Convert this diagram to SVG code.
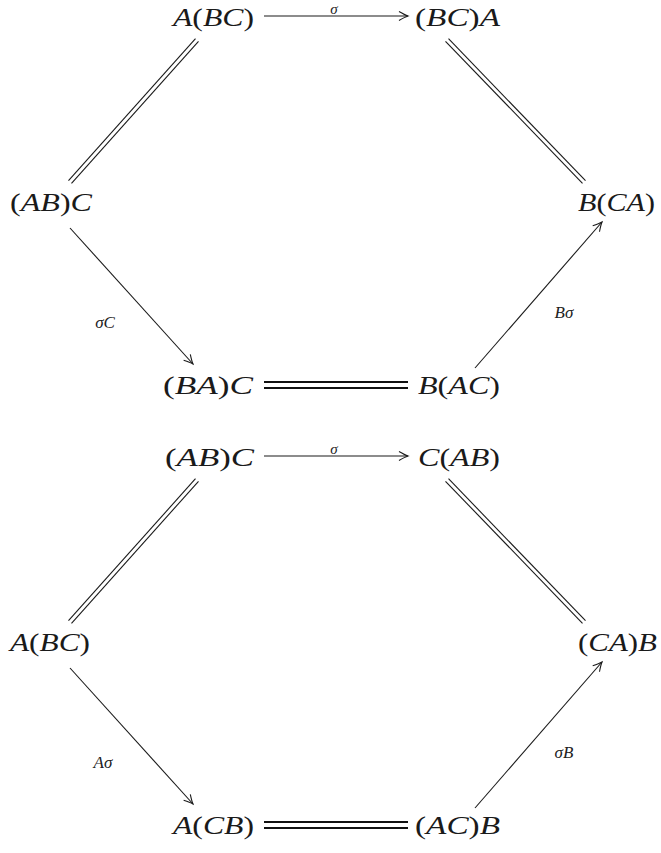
<svg xmlns="http://www.w3.org/2000/svg" width="661" height="853" viewBox="0 0 661 853">
<defs>
<style>
.n{font-family:"Liberation Serif",serif;font-size:26px;font-style:italic;fill:#1a1a1a}
.u{font-style:normal}
.l{font-family:"Liberation Serif",serif;font-size:17px;font-style:italic;fill:#222}
.s{font-family:"Liberation Serif",serif;font-size:15px;font-style:italic;fill:#222}
.e{stroke:#1a1a1a;stroke-width:1.1;fill:none}
.t{stroke:#111;stroke-width:2.2;fill:none}
</style>
<marker id="ah" viewBox="-10 -6 12 12" markerWidth="12" markerHeight="12" refX="0" refY="0" orient="auto" markerUnits="userSpaceOnUse">
<path d="M -9 -4.5 Q -3 -1 0 0 Q -3 1 -9 4.5" stroke="#1a1a1a" stroke-width="1.1" fill="none"/>
</marker>
</defs>
<g id="top-nodes">
<g id="n1"><text class="n" x="173" y="26" textLength="81" lengthAdjust="spacingAndGlyphs">A<tspan class="u">(</tspan>BC<tspan class="u">)</tspan></text></g>
<g id="n2"><text class="n" x="415" y="26" textLength="85" lengthAdjust="spacingAndGlyphs"><tspan class="u">(</tspan>BC<tspan class="u">)</tspan>A</text></g>
<g id="n3"><text class="n" x="10" y="211" textLength="82" lengthAdjust="spacingAndGlyphs"><tspan class="u">(</tspan>AB<tspan class="u">)</tspan>C</text></g>
<g id="n4"><text class="n" x="578" y="211" textLength="77" lengthAdjust="spacingAndGlyphs">B<tspan class="u">(</tspan>CA<tspan class="u">)</tspan></text></g>
<g id="n5"><text class="n" x="163" y="394" textLength="90" lengthAdjust="spacingAndGlyphs"><tspan class="u">(</tspan>BA<tspan class="u">)</tspan>C</text></g>
<g id="n6"><text class="n" x="418" y="394" textLength="82" lengthAdjust="spacingAndGlyphs">B<tspan class="u">(</tspan>AC<tspan class="u">)</tspan></text></g>
</g>
<g id="bottom-nodes">
<g id="m1"><text class="n" x="165" y="466" textLength="89" lengthAdjust="spacingAndGlyphs"><tspan class="u">(</tspan>AB<tspan class="u">)</tspan>C</text></g>
<g id="m2"><text class="n" x="418" y="466" textLength="82" lengthAdjust="spacingAndGlyphs">C<tspan class="u">(</tspan>AB<tspan class="u">)</tspan></text></g>
<g id="m3"><text class="n" x="10" y="651" textLength="80" lengthAdjust="spacingAndGlyphs">A<tspan class="u">(</tspan>BC<tspan class="u">)</tspan></text></g>
<g id="m4"><text class="n" x="578" y="651" textLength="79" lengthAdjust="spacingAndGlyphs"><tspan class="u">(</tspan>CA<tspan class="u">)</tspan>B</text></g>
<g id="m5"><text class="n" x="173" y="834" textLength="81" lengthAdjust="spacingAndGlyphs">A<tspan class="u">(</tspan>CB<tspan class="u">)</tspan></text></g>
<g id="m6"><text class="n" x="415" y="834" textLength="85" lengthAdjust="spacingAndGlyphs"><tspan class="u">(</tspan>AC<tspan class="u">)</tspan>B</text></g>
</g>
<g id="connectors">
<line class="e" x1="264" y1="16" x2="408" y2="16" marker-end="url(#ah)"/>
<text class="s" x="334" y="14" text-anchor="middle">σ</text>
<line class="e" x1="198.5" y1="41.3" x2="71.5" y2="183.3"/>
<line class="e" x1="195.5" y1="38.7" x2="68.5" y2="180.7"/>
<line class="e" x1="445.5" y1="41.3" x2="582.5" y2="183.3"/>
<line class="e" x1="448.5" y1="38.7" x2="585.5" y2="180.7"/>
<line class="e" x1="70" y1="228" x2="193" y2="364" marker-end="url(#ah)"/>
<text class="l" x="105" y="328" text-anchor="middle">σC</text>
<line class="e" x1="475" y1="368" x2="602" y2="222" marker-end="url(#ah)"/>
<text class="l" x="564" y="318" text-anchor="middle">Bσ</text>
<line class="t" x1="264" y1="382" x2="408" y2="382"/>
<line class="t" x1="264" y1="388" x2="408" y2="388"/>

<line class="e" x1="264" y1="456" x2="408" y2="456" marker-end="url(#ah)"/>
<text class="s" x="334" y="454" text-anchor="middle">σ</text>
<line class="e" x1="198.5" y1="481.3" x2="71.5" y2="623.3"/>
<line class="e" x1="195.5" y1="478.7" x2="68.5" y2="620.7"/>
<line class="e" x1="445.5" y1="481.3" x2="582.5" y2="623.3"/>
<line class="e" x1="448.5" y1="478.7" x2="585.5" y2="620.7"/>
<line class="e" x1="70" y1="668" x2="193" y2="804" marker-end="url(#ah)"/>
<text class="l" x="103" y="768" text-anchor="middle">Aσ</text>
<line class="e" x1="475" y1="808" x2="602" y2="662" marker-end="url(#ah)"/>
<text class="l" x="564" y="758" text-anchor="middle">σB</text>
<line class="t" x1="264" y1="822" x2="408" y2="822"/>
<line class="t" x1="264" y1="828" x2="408" y2="828"/>
</g>
</svg>
